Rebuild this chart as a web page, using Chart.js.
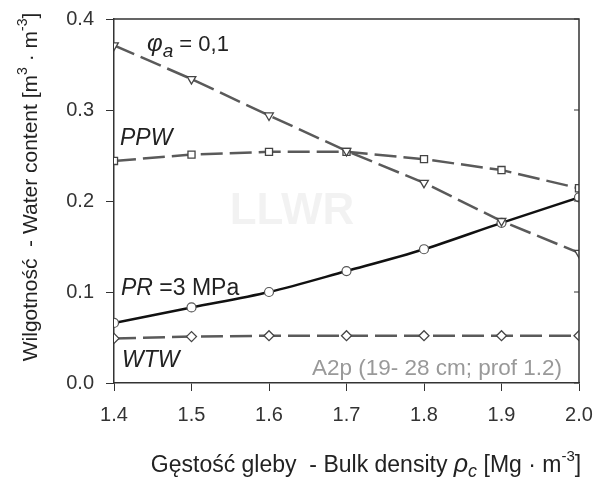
<!DOCTYPE html>
<html>
<head>
<meta charset="utf-8">
<script src="https://cdn.jsdelivr.net/npm/chart.js@4"></script>
<style>
  body { margin: 0; background: #fff; }
  #wrap { width: 596px; height: 486px; }
</style>
</head>
<body>
<div id="wrap"><canvas id="myChart" width="596" height="486"></canvas></div>
<script>
const density = [1.4, 1.5, 1.6, 1.7, 1.8, 1.9, 2.0];
const phiA = [0.371, 0.334, 0.294, 0.255, 0.220, 0.178, 0.143];
const ppw = [0.244, 0.251, 0.254, 0.254, 0.246, 0.234, 0.214];
const pr = [0.066, 0.083, 0.100, 0.123, 0.147, 0.176, 0.204];
const wtw = [0.049, 0.051, 0.052, 0.052, 0.052, 0.052, 0.052];
const xTicks = [1.4, 1.5, 1.6, 1.7, 1.8, 1.9, 2.0];
const yTicks = [0.0, 0.1, 0.2, 0.3, 0.4];

const ctx = document.getElementById("myChart");
const FONT = "'Liberation Sans', Arial, sans-serif";

function pts(vals) {
  return density.map((x, i) => ({ x: x, y: vals[i] }));
}

function dashed(vals, style, rot) {
  return {
    data: pts(vals),
    borderColor: "#5a5a5a",
    borderWidth: 2.5,
    borderDash: [22, 7],
    pointStyle: style,
    pointRotation: rot || 0,
    pointRadius: 5,
    pointBorderWidth: 1.3,
    pointBorderColor: "#444",
    pointBackgroundColor: "#fff",
    tension: 0,
  };
}

// draws text pieces in a row: [text, font, dy]
function richText(c, x, y, parts, color) {
  c.fillStyle = color;
  c.textBaseline = "alphabetic";
  c.textAlign = "left";
  let cx = x;
  parts.forEach((p) => {
    c.font = p[1];
    c.fillText(p[0], cx, y + (p[2] || 0));
    cx += c.measureText(p[0]).width;
  });
  return cx - x;
}

function richWidth(c, parts) {
  let w = 0;
  parts.forEach((p) => {
    c.font = p[1];
    w += c.measureText(p[0]).width;
  });
  return w;
}

const extras = {
  id: "extras",
  beforeDatasetsDraw(chart) {
    const c = chart.ctx;
    c.save();
    // faint watermark
    c.font = "bold 44px " + FONT;
    c.fillStyle = "rgba(0,0,0,0.05)";
    c.textAlign = "center";
    c.textBaseline = "middle";
    c.fillText("LLWR", 292, 212);
    c.restore();
  },
  afterDraw(chart) {
    const c = chart.ctx;
    const a = chart.chartArea;
    const ys = chart.scales.y;
    c.save();
    // frame top and right
    c.strokeStyle = "#333";
    c.lineWidth = 1.5;
    c.beginPath();
    c.moveTo(a.left, a.top);
    c.lineTo(a.right, a.top);
    c.lineTo(a.right, a.bottom);
    c.stroke();
    // inner ticks on the right side
    c.lineWidth = 1;
    yTicks.forEach((v) => {
      const py = ys.getPixelForValue(v);
      c.beginPath();
      c.moveTo(a.right, py);
      c.lineTo(a.right - 5, py);
      c.stroke();
    });

    const it = "italic 23px " + FONT;
    const rg = "23px " + FONT;
    richText(c, 147, 51, [["\u03c6", "italic 24px " + FONT], ["a", "italic 19px " + FONT, 6], [" = 0,1", "22px " + FONT]], "#222");
    richText(c, 120, 145, [["PPW", it]], "#222");
    richText(c, 121, 295, [["PR", it], [" =3 MPa", rg]], "#222");
    richText(c, 122, 367, [["WTW", it]], "#222");
    richText(c, 312, 375, [["A2p (19- 28 cm; prof 1.2)", "22.5px " + FONT]], "#999");

    // x title
    const xp = [
      ["G\u0119sto\u015b\u0107 gleby  - Bulk density ", "23px " + FONT],
      ["\u03c1", "italic 25px " + FONT],
      ["c", "italic 18px " + FONT, 5],
      [" [Mg \u00b7 m", "23px " + FONT],
      ["-3", "15px " + FONT, -11],
      ["]", "23px " + FONT],
    ];
    const xw = richWidth(c, xp);
    richText(c, 366 - xw / 2, 472, xp, "#222");

    // y title
    const yp = [
      ["Wilgotno\u015b\u0107  - Water content [m", "21px " + FONT],
      ["3", "14px " + FONT, -10],
      [" \u00b7 m", "21px " + FONT],
      ["-3", "14px " + FONT, -10],
      ["]", "21px " + FONT],
    ];
    const yw = richWidth(c, yp);
    c.translate(37, 187);
    c.rotate(-Math.PI / 2);
    richText(c, -yw / 2, 0, yp, "#222");
    c.restore();
  },
};

new Chart(ctx, {
  type: "line",
  data: {
    datasets: [
      dashed(phiA, "triangle", 180),
      dashed(ppw, "rect"),
      {
        data: pts(pr),
        borderColor: "#111",
        borderWidth: 2.5,
        pointStyle: "circle",
        pointRadius: 4.5,
        pointBorderWidth: 1.2,
        pointBorderColor: "#555",
        pointBackgroundColor: "#fff",
        cubicInterpolationMode: "monotone",
      },
      dashed(wtw, "rectRot"),
    ],
  },
  options: {
    responsive: false,
    animation: false,
    layout: { padding: { top: 19, right: 17, left: 0, bottom: 0 } },
    plugins: { legend: { display: false }, tooltip: { enabled: false } },
    scales: {
      x: {
        type: "linear",
        min: 1.4,
        max: 2.0,
        afterFit: (s) => {
          s.height = 103;
          s.paddingLeft = 0;
          s.paddingRight = 0;
        },
        afterBuildTicks: (s) => { s.ticks = xTicks.map((v) => ({ value: v })); },
        grid: { drawOnChartArea: false, tickLength: 8, color: "#333", lineWidth: 1 },
        border: { color: "#333", width: 1.5 },
        ticks: {
          font: { family: FONT, size: 20 },
          color: "#333",
          padding: 12,
          callback: (v) => v.toFixed(1),
        },
      },
      y: {
        min: 0,
        max: 0.4,
        afterFit: (s) => {
          s.width = 114;
          s.paddingTop = 0;
          s.paddingBottom = 0;
        },
        afterBuildTicks: (s) => { s.ticks = yTicks.map((v) => ({ value: v })); },
        grid: { drawOnChartArea: false, tickLength: 8, color: "#333", lineWidth: 1 },
        border: { color: "#333", width: 1.5 },
        ticks: {
          font: { family: FONT, size: 20 },
          color: "#333",
          padding: 12,
          callback: (v) => v.toFixed(1),
        },
      },
    },
  },
  plugins: [extras],
});
</script>
</body>
</html>
